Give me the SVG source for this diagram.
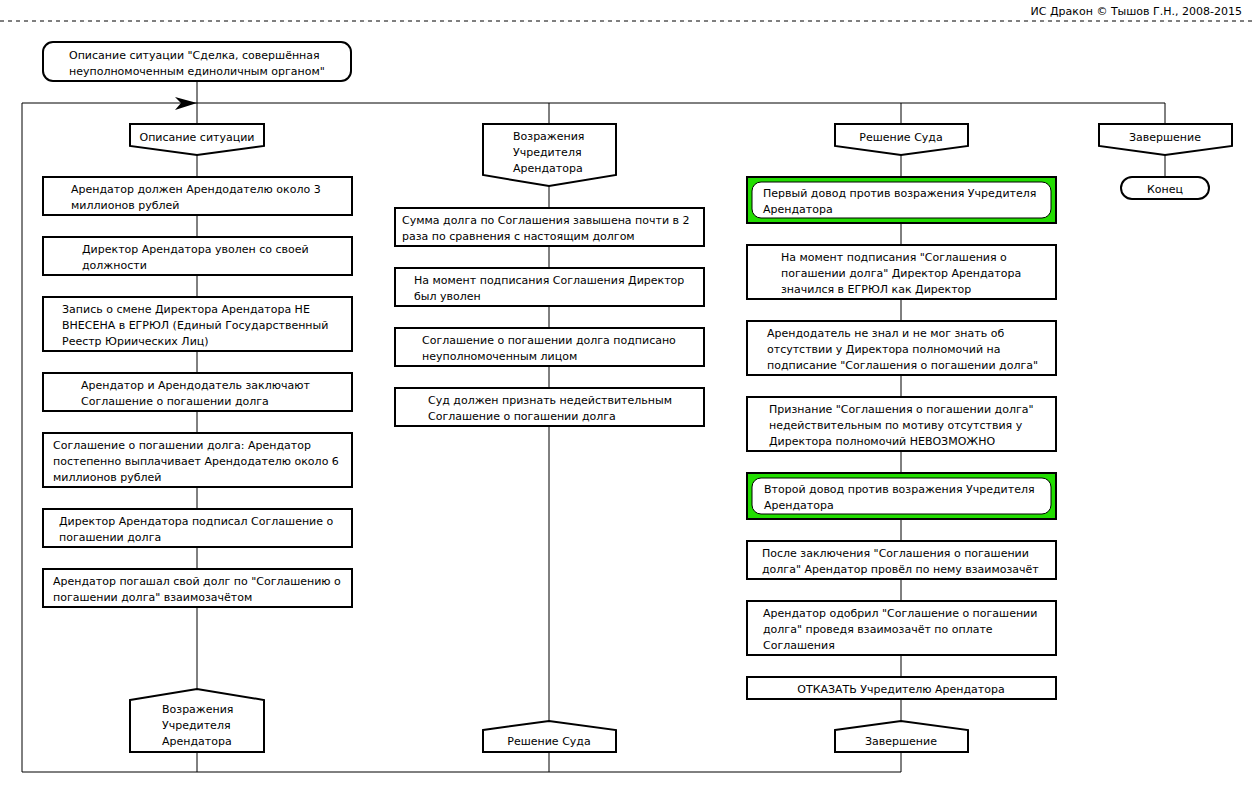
<svg xmlns="http://www.w3.org/2000/svg" width="1253" height="795" viewBox="0 0 1253 795">
<style>
text{font-family:"DejaVu Sans","Liberation Sans",sans-serif;font-size:11px;fill:#000}
.box{fill:#fff;stroke:#000;stroke-width:2}
.ln{fill:none;stroke:#000;stroke-width:1}
.green{fill:#22dd00;stroke:#000;stroke-width:2}
.inner{fill:#fff;stroke:#000;stroke-width:1}
.mid{text-anchor:middle}
</style>
<rect x="0" y="0" width="1253" height="795" fill="#fff"/>
<line x1="0" y1="21" x2="1253" y2="21" stroke="#000" stroke-width="1" stroke-dasharray="4,4"/>
<text x="1242" y="15" text-anchor="end">ИС Дракон © Тышов Г.Н., 2008-2015</text>

<g id="connectors">
<line class="ln" x1="197" y1="81" x2="197" y2="124"/>
<polyline class="ln" points="197,752 197,772 22,772 22,103 1165,103 1165,124"/>
<line class="ln" x1="549" y1="103" x2="549" y2="124"/>
<line class="ln" x1="901" y1="103" x2="901" y2="124"/>
<line class="ln" x1="197" y1="155" x2="197" y2="689"/>
<line class="ln" x1="549" y1="186" x2="549" y2="721"/>
<polyline class="ln" points="549,752 549,772"/>
<line class="ln" x1="901" y1="155" x2="901" y2="721"/>
<polyline class="ln" points="901,752 901,772 197,772"/>
<line class="ln" x1="1165" y1="155" x2="1165" y2="177"/>
<polygon points="175,97 197,103 175,110 181,103" fill="#000"/>
</g>

<g id="title">
<rect class="box" x="43" y="42" width="308" height="39" rx="10"/>
<text x="69" y="59">Описание ситуации "Сделка, совершённая</text>
<text x="69" y="75">неуполномоченным единоличным органом"</text>
</g>

<!-- Column 1 -->
<g id="h1">
<polygon class="box" points="130,124 264,124 264,146 197,155 130,146"/>
<text class="mid" x="197" y="141">Описание ситуации</text>
</g>
<g id="a1">
<rect class="box" x="43" y="177" width="309" height="38"/>
<text x="71" y="193">Арендатор должен Арендодателю около 3</text>
<text x="71" y="209">миллионов рублей</text>
</g>
<g id="a2">
<rect class="box" x="43" y="237" width="309" height="38"/>
<text x="82" y="253">Директор Арендатора уволен со своей</text>
<text x="82" y="269">должности</text>
</g>
<g id="a3">
<rect class="box" x="43" y="297" width="309" height="54"/>
<text x="62" y="313">Запись о смене Директора Арендатора НЕ</text>
<text x="62" y="329">ВНЕСЕНА в ЕГРЮЛ (Единый Государственный</text>
<text x="62" y="345">Реестр Юриических Лиц)</text>
</g>
<g id="a4">
<rect class="box" x="43" y="373" width="309" height="38"/>
<text x="81" y="389">Арендатор и Арендодатель заключают</text>
<text x="81" y="405">Соглашение о погашении долга</text>
</g>
<g id="a5">
<rect class="box" x="43" y="433" width="309" height="54"/>
<text x="53" y="449">Соглашение о погашении долга: Арендатор</text>
<text x="53" y="465">постепенно выплачивает Арендодателю около 6</text>
<text x="53" y="481">миллионов рублей</text>
</g>
<g id="a6">
<rect class="box" x="43" y="509" width="309" height="38"/>
<text x="59" y="525">Директор Арендатора подписал Соглашение о</text>
<text x="59" y="541">погашении долга</text>
</g>
<g id="a7">
<rect class="box" x="43" y="569" width="309" height="38"/>
<text x="53" y="585">Арендатор погашал свой долг по "Соглашению о</text>
<text x="53" y="601">погашении долга" взаимозачётом</text>
</g>
<g id="b1">
<polygon class="box" points="130,700 197,689 264,700 264,752 130,752"/>
<text x="162" y="713">Возражения</text>
<text x="162" y="729">Учредителя</text>
<text x="162" y="745">Арендатора</text>
</g>

<!-- Column 2 -->
<g id="h2">
<polygon class="box" points="483,124 616,124 616,175 549,186 483,175"/>
<text x="513" y="140">Возражения</text>
<text x="513" y="156">Учредителя</text>
<text x="513" y="172">Арендатора</text>
</g>
<g id="c1">
<rect class="box" x="395" y="208" width="309" height="38"/>
<text x="402" y="224">Сумма долга по Соглашения завышена почти в 2</text>
<text x="402" y="240">раза по сравнения с настоящим долгом</text>
</g>
<g id="c2">
<rect class="box" x="395" y="268" width="309" height="38"/>
<text x="414" y="284">На момент подписания Соглашения Директор</text>
<text x="414" y="300">был уволен</text>
</g>
<g id="c3">
<rect class="box" x="395" y="328" width="309" height="38"/>
<text x="422" y="344">Соглашение о погашении долга подписано</text>
<text x="422" y="360">неуполномоченным лицом</text>
</g>
<g id="c4">
<rect class="box" x="395" y="388" width="309" height="38"/>
<text x="428" y="404">Суд должен признать недействительным</text>
<text x="428" y="420">Соглашение о погашении долга</text>
</g>
<g id="b2">
<polygon class="box" points="483,730 549,721 616,730 616,752 483,752"/>
<text class="mid" x="549" y="745">Решение Суда</text>
</g>

<!-- Column 3 -->
<g id="h3">
<polygon class="box" points="835,124 968,124 968,146 901,155 835,146"/>
<text class="mid" x="901" y="141">Решение Суда</text>
</g>
<g id="d1">
<rect class="green" x="747" y="177" width="309" height="46"/>
<rect class="inner" x="752" y="182" width="299" height="36" rx="9"/>
<text x="763" y="197">Первый довод против возражения Учредителя</text>
<text x="763" y="213">Арендатора</text>
</g>
<g id="d2">
<rect class="box" x="747" y="245" width="309" height="54"/>
<text x="781" y="261">На момент подписания "Соглашения о</text>
<text x="781" y="277">погашении долга" Директор Арендатора</text>
<text x="781" y="293">значился в ЕГРЮЛ как Директор</text>
</g>
<g id="d3">
<rect class="box" x="747" y="321" width="309" height="54"/>
<text x="767" y="337">Арендодатель не знал и не мог знать об</text>
<text x="767" y="353">отсутствии у Директора полномочий на</text>
<text x="767" y="369">подписание "Соглашения о погашении долга"</text>
</g>
<g id="d4">
<rect class="box" x="747" y="397" width="309" height="54"/>
<text x="769" y="413">Признание "Соглашения о погашении долга"</text>
<text x="769" y="429">недействительным по мотиву отсутствия у</text>
<text x="769" y="445">Директора полномочий НЕВОЗМОЖНО</text>
</g>
<g id="d5">
<rect class="green" x="747" y="473" width="309" height="46"/>
<rect class="inner" x="752" y="478" width="299" height="36" rx="9"/>
<text x="764" y="493">Второй довод против возражения Учредителя</text>
<text x="764" y="509">Арендатора</text>
</g>
<g id="d6">
<rect class="box" x="747" y="541" width="309" height="38"/>
<text x="762" y="557">После заключения "Соглашения о погашении</text>
<text x="762" y="573">долга" Арендатор провёл по нему взаимозачёт</text>
</g>
<g id="d7">
<rect class="box" x="747" y="601" width="309" height="54"/>
<text x="763" y="617">Арендатор одобрил "Соглашение о погашении</text>
<text x="763" y="633">долга" проведя взаимозачёт по оплате</text>
<text x="763" y="649">Соглашения</text>
</g>
<g id="d8">
<rect class="box" x="747" y="677" width="309" height="22"/>
<text class="mid" x="901" y="693">ОТКАЗАТЬ Учредителю Арендатора</text>
</g>
<g id="b3">
<polygon class="box" points="835,730 901,721 968,730 968,752 835,752"/>
<text class="mid" x="901" y="745">Завершение</text>
</g>

<!-- Column 4 -->
<g id="h4">
<polygon class="box" points="1099,124 1232,124 1232,146 1165,155 1099,146"/>
<text class="mid" x="1165" y="141">Завершение</text>
</g>
<g id="end">
<rect class="box" x="1121" y="177" width="88" height="22" rx="11"/>
<text class="mid" x="1165" y="193">Конец</text>
</g>
</svg>
